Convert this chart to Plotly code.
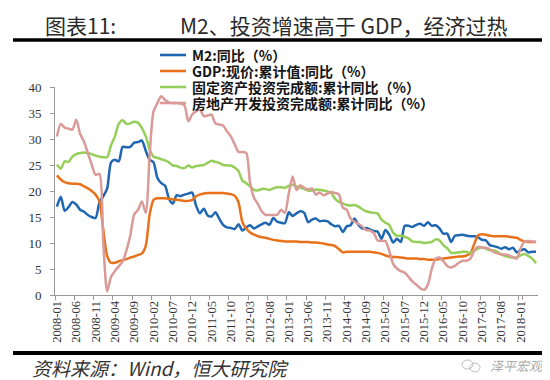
import plotly.graph_objects as go

# ---------------- data ----------------
months = [f"{y}-{m:02d}" for y in range(2008, 2019) for m in range(1, 13)][:125]
tick_labels = months[::5]

m2 = [
    17.0, 18.9, 16.2, 16.9, 17.9, 17.4, 16.4, 16.0, 15.4, 15.0, 14.8, 17.8,
    19.0, 20.5, 25.5, 26.0, 25.7, 28.5, 28.4, 28.5, 29.3, 29.4, 29.7, 27.7,
    26.0, 25.5, 22.5, 21.5, 21.0, 18.5, 17.6, 19.2, 19.0, 19.3, 19.5, 19.7,
    17.2, 15.7, 16.6, 15.3, 15.1, 15.9, 14.7, 13.5, 13.0, 12.9, 12.7, 13.6,
    12.4, 13.0, 13.4, 12.8, 13.2, 13.6, 13.9, 13.5, 14.8, 14.1, 13.9, 13.8,
    15.9, 15.2, 15.7, 16.1, 15.8, 14.0, 14.5, 14.7, 14.2, 14.3, 14.2, 13.6,
    13.2, 13.3, 12.1, 13.2, 13.4, 14.7, 13.5, 12.8, 12.9, 12.6, 12.3, 12.2,
    10.8, 12.5, 11.6, 10.1, 10.8, 10.2, 13.3, 13.3, 13.1, 13.5, 13.7, 13.3,
    14.0, 13.3, 13.4, 12.8, 11.8, 11.8, 10.2, 11.4, 11.5, 11.6, 11.4, 11.3,
    11.3, 11.1, 10.6, 10.5, 9.6, 9.4, 9.2, 8.9, 9.2, 8.8, 9.1, 8.2,
    8.6, 8.8, 8.2, 8.3, 8.3,
]

gdp = [
    23.0, 22.2, 21.7, 21.5, 21.4, 21.4, 21.3, 20.9, 20.5, 20.0, 19.3, 18.0,
    12.5, 7.5, 6.2, 6.2, 6.5, 6.7, 6.9, 7.2, 7.4, 7.7, 8.0, 9.5,
    15.5, 18.3, 18.6, 18.6, 18.6, 18.5, 18.4, 18.3, 18.2, 18.1, 18.1, 18.3,
    19.0, 19.3, 19.5, 19.6, 19.6, 19.6, 19.6, 19.6, 19.5, 19.4, 19.1, 17.8,
    14.0, 12.8, 12.0, 11.6, 11.3, 11.1, 11.0, 10.8, 10.6, 10.5, 10.4, 10.3,
    10.3, 10.3, 10.3, 10.2, 10.2, 10.2, 10.1, 10.1, 10.0, 9.9, 9.7, 9.6,
    9.4, 8.8, 8.2, 8.3, 8.3, 8.3, 8.3, 8.3, 8.3, 8.3, 8.2, 8.1,
    7.9, 7.6, 7.4, 7.3, 7.3, 7.2, 7.1, 7.0, 7.0, 7.0, 6.9, 6.9,
    6.8, 6.8, 6.8, 6.9, 7.0, 7.1, 7.2, 7.3, 7.4, 7.4, 7.6, 8.0,
    9.8, 11.5, 11.7, 11.6, 11.4, 11.3, 11.3, 11.3, 11.3, 11.2, 11.1, 11.0,
    10.6, 10.3, 10.2, 10.2, 10.2,
]

fai = [
    25.1, 24.3, 25.7, 25.6, 26.6, 27.1, 27.3, 27.4, 27.3, 27.1, 26.8, 26.6,
    26.5, 26.5, 28.8, 30.5, 32.9, 33.6, 32.9, 33.0, 33.3, 33.1, 32.1, 30.5,
    28.0, 26.6, 26.4, 26.1, 25.9, 25.5, 24.9, 24.8, 24.5, 24.4, 24.9, 24.5,
    24.8, 24.9, 25.0, 25.4, 25.8, 25.6, 25.4, 25.0, 24.9, 24.9, 24.5, 23.8,
    22.0, 21.5, 20.9, 20.2, 20.1, 20.4, 20.4, 20.2, 20.5, 20.7, 20.7, 20.6,
    21.0, 21.2, 20.9, 20.6, 20.4, 20.1, 20.1, 20.3, 20.2, 20.1, 19.9, 19.6,
    18.5, 17.9, 17.6, 17.3, 17.2, 17.3, 17.0, 16.5, 16.1, 15.9, 15.8, 15.7,
    14.5, 13.9, 13.5, 12.0, 11.4, 11.4, 11.2, 10.9, 10.3, 10.2, 10.2, 10.0,
    10.1, 10.2, 10.7, 10.5, 9.6, 9.0, 8.1, 8.1, 8.2, 8.3, 8.3, 8.1,
    8.5, 8.9, 9.2, 8.9, 8.6, 8.6, 8.3, 7.8, 7.5, 7.3, 7.2, 7.2,
    7.6, 7.9, 7.5, 7.0, 6.1,
]

realestate = [
    30.5, 32.9, 32.2, 32.0, 31.8, 33.7, 31.0, 29.5, 27.3, 25.1, 23.1, 23.3,
    10.0, 0.7, 3.5, 4.6, 5.5, 6.4, 8.6, 11.5, 15.5, 16.4, 18.0, 15.8,
    27.0, 35.3, 36.9, 38.2, 37.5, 37.0, 36.9, 36.9, 36.8, 36.5, 33.4, 34.7,
    35.3, 35.6, 34.4, 34.5, 34.7, 33.0, 32.8, 32.6, 31.5, 30.5, 29.0, 27.5,
    27.5, 27.3, 21.5, 18.7, 17.5, 16.1, 15.4, 15.4, 15.4, 15.4, 16.4, 15.8,
    19.5, 22.8, 20.2, 21.1, 20.6, 20.3, 20.5, 19.3, 19.7, 19.2, 19.5, 19.8,
    19.6, 19.3, 16.8, 16.4, 14.7, 14.1, 13.7, 13.2, 12.5, 12.4, 11.9, 10.5,
    10.4, 10.4, 8.5, 6.0, 5.1, 4.6, 4.3, 3.5, 2.6, 2.0, 1.3, 1.0,
    2.0, 5.0, 7.0, 7.2, 6.5, 5.6, 5.3, 5.6, 6.2, 6.6, 6.6, 7.0,
    8.5, 9.3, 9.1, 9.1, 8.8, 8.3, 8.0, 7.8, 7.8, 7.6, 7.3, 7.0,
    9.0, 10.3, 10.4, 10.3, 10.2,
]

series_names = [
    "M2:同比（%）",
    "GDP:现价:累计值:同比（%）",
    "固定资产投资完成额:累计同比（%）",
    "房地产开发投资完成额:累计同比（%）",
]
series_values = [m2, gdp, fai, realestate]
series_colors = ["#1F66B3", "#E8711A", "#95CF5A", "#D99A98"]

# ---------------- layout helpers (pixel -> paper) ----------------
W, H = 550, 380
L, R, T, B = 47, 20, 79, 93
PW, PH = W - L - R, H - T - B


def px(x):
    return (x - L) / PW


def py(y):
    return (H - B - y) / PH


fig = go.Figure()
for name, vals, col in zip(series_names, series_values, series_colors):
    fig.add_trace(go.Scatter(
        x=months, y=vals, mode="lines", name=name,
        line=dict(color=col, width=2.5, shape="spline", smoothing=0.7),
        showlegend=False,
    ))

cjk = "Noto Sans CJK SC"
serif = "Liberation Serif"

annotations = []
shapes = []

# title
annotations.append(dict(x=px(35), y=py(17), xref="paper", yref="paper", text="图表11:",
                        showarrow=False, xanchor="left", yanchor="middle",
                        font=dict(family=cjk, size=21, color="#2a2a2a")))
annotations.append(dict(x=px(170), y=py(17), xref="paper", yref="paper",
                        text="M2、投资增速高于 GDP，经济过热",
                        showarrow=False, xanchor="left", yanchor="middle",
                        font=dict(family=cjk, size=21, color="#2a2a2a")))
shapes.append(dict(type="line", xref="paper", yref="paper", x0=px(5), x1=px(542),
                   y0=py(32), y1=py(32), line=dict(color="black", width=3.5)))

# legend (manual)
rows = [47, 63, 79, 95]
for name, col, ry in zip(series_names, series_colors, rows):
    shapes.append(dict(type="line", xref="paper", yref="paper", x0=px(152), x1=px(178),
                       y0=py(ry), y1=py(ry), line=dict(color=col, width=2.6)))
    annotations.append(dict(x=px(182), y=py(ry), xref="paper", yref="paper", text=name,
                            showarrow=False, xanchor="left", yanchor="middle",
                            font=dict(family=cjk, size=14, color="#151515", weight="bold")))

# footer
shapes.append(dict(type="line", xref="paper", yref="paper", x0=px(5), x1=px(542),
                   y0=py(345), y1=py(345), line=dict(color="black", width=4)))
annotations.append(dict(x=px(22), y=py(359), xref="paper", yref="paper",
                        text="资料来源：Wind，恒大研究院",
                        showarrow=False, xanchor="left", yanchor="middle",
                        font=dict(family=cjk, size=19, color="#333", style="italic")))
annotations.append(dict(x=px(480), y=py(357), xref="paper", yref="paper",
                        text="泽平宏观",
                        showarrow=False, xanchor="left", yanchor="middle",
                        font=dict(family=cjk, size=13, color="#aaaaaa", style="italic")))
shapes.append(dict(type="circle", xref="paper", yref="paper", x0=px(454), x1=px(465),
                   y0=py(361), y1=py(352), line=dict(color="#bbbbbb", width=1)))
shapes.append(dict(type="circle", xref="paper", yref="paper", x0=px(462), x1=px(472),
                   y0=py(364), y1=py(355), line=dict(color="#bbbbbb", width=1)))

fig.update_layout(
    width=W, height=H,
    margin=dict(l=L, r=R, t=T, b=B),
    paper_bgcolor="white", plot_bgcolor="white",
    showlegend=False,
    annotations=annotations,
    shapes=shapes,
    xaxis=dict(
        type="category", range=[-0.5, len(months) - 0.5],
        tickmode="array", tickvals=tick_labels, ticktext=tick_labels,
        tickangle=-90, tickson="boundaries",
        ticks="outside", ticklen=4, tickcolor="#999", tickwidth=1,
        showline=True, linecolor="#999", linewidth=1,
        showgrid=False, zeroline=False,
        tickfont=dict(family=serif, size=12.5, color="#333"),
    ),
    yaxis=dict(
        range=[0, 40], tickmode="linear", tick0=0, dtick=5,
        ticks="outside", ticklen=4, tickcolor="#999", tickwidth=1,
        showline=True, linecolor="#999", linewidth=1,
        showgrid=False, zeroline=False,
        tickfont=dict(family=serif, size=13, color="#333"),
        ticklabelstandoff=6,
    ),
)

fig.write_html("out.html")
